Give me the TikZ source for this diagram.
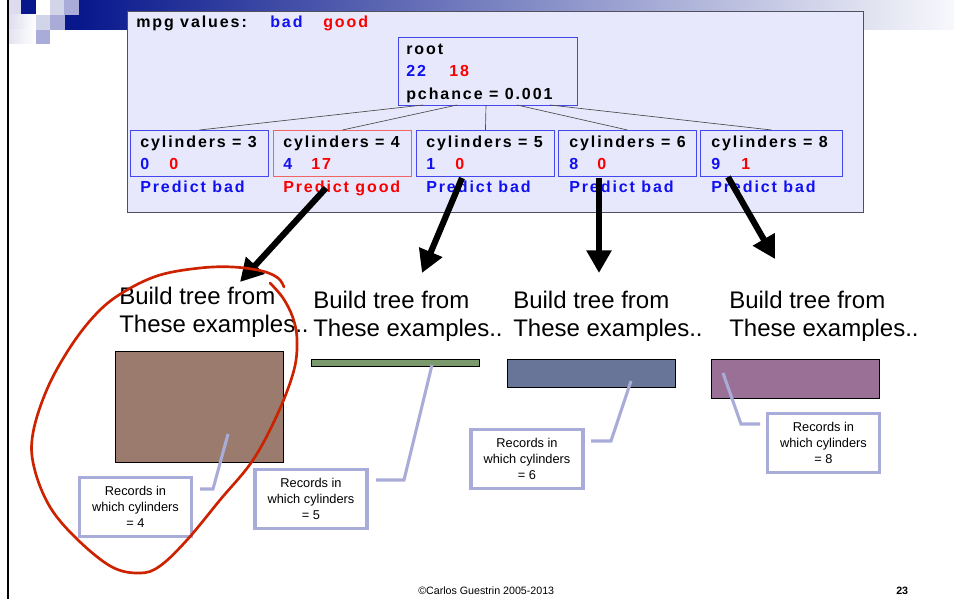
\documentclass[tikz,border=0pt]{standalone}
\usepackage{fontspec}
\setmainfont{Liberation Sans}
\newfontfamily\panelfont{Liberation Sans}[LetterSpace=12]
\usetikzlibrary{arrows.meta}
\definecolor{navy}{RGB}{8,24,140}
\definecolor{paleblue}{RGB}{220,220,238}
\definecolor{midgray}{RGB}{210,212,232}
\definecolor{lav}{RGB}{169,172,216}
\definecolor{panelbg}{RGB}{232,232,252}
\definecolor{panelbd}{RGB}{80,80,95}
\definecolor{tblue}{RGB}{16,16,240}
\definecolor{tred}{RGB}{250,0,0}
\definecolor{boxblue}{RGB}{70,70,240}
\definecolor{boxred}{RGB}{240,100,100}
\definecolor{brownr}{RGB}{155,123,110}
\definecolor{greenr}{RGB}{122,154,110}
\definecolor{bluer}{RGB}{104,116,152}
\definecolor{purpler}{RGB}{155,112,150}
\definecolor{loopred}{RGB}{204,34,0}
\tikzset{
  ptxt/.style={anchor=base west, inner sep=0pt, font=\panelfont\bfseries\fontsize{12pt}{14pt}\selectfont},
  cbox/.style={draw=boxblue, line width=0.7pt, anchor=north west, minimum width=103.5pt, minimum height=34.5pt, inner sep=0pt},
  bigtxt/.style={anchor=north west, inner sep=0pt, align=left, font=\fontsize{18pt}{21pt}\selectfont},
  callout/.style={draw=lav, line width=2.3pt, fill=white, minimum width=84pt, minimum height=44pt, inner sep=0pt, align=center, font=\fontsize{9.6pt}{12pt}\selectfont},
  leader/.style={draw=lav, line width=2.3pt},
  bigarrow/.style={line width=4.6pt, -{Triangle[length=17pt,width=18pt]}},
  datarect/.style={draw=black, line width=0.8pt, anchor=north west, inner sep=0pt},
  treeline/.style={draw=black!70, line width=0.5pt}
}
\begin{document}
\begin{tikzpicture}[x=0.75pt,y=-0.75pt]
\useasboundingbox (0,0) rectangle (954,599);
% banner
\shade[left color=navy, right color=white!97!navy] (79,0) rectangle (954,30);
\fill[paleblue] (8,0) rectangle (21,15);
\fill[navy] (21,0) rectangle (36,15);
\fill[white] (36,0) rectangle (50,15);
\fill[midgray] (50,0) rectangle (64,15);
\fill[lav] (64,0) rectangle (79,15);
\shade[left color=paleblue, right color=white] (8,15) rectangle (36,30);
\fill[midgray] (36,15) rectangle (50,30);
\fill[lav] (50,15) rectangle (65,30);
\fill[navy] (65,15) rectangle (79,30);
\shade[left color=paleblue!80, right color=white] (8,30) rectangle (36,44);
\fill[lav] (36,30) rectangle (50,44);
\draw[line width=1.5pt] (8,0) -- (8,599);
% panel
\node[draw=panelbd, fill=panelbg, line width=0.9pt, anchor=north west, minimum width=552pt, minimum height=150.75pt, inner sep=0pt] (panel) at (127,11) {};
\node[ptxt] (mpg) at (136,28) {mpg values:};
\node[ptxt, text=tblue] (mbad) at (270,28) {bad};
\node[ptxt, text=tred] (mgood) at (323,28) {good};
% root
\node[draw=boxblue, line width=0.7pt, anchor=north west, minimum width=134.25pt, minimum height=51pt, inner sep=0pt] (root) at (398,37) {};
\node[ptxt] (rt1) at (406,55) {root};
\node[ptxt, text=tblue] (rt2) at (406,77) {22};
\node[ptxt, text=tred] (rt3) at (449,77) {18};
\node[ptxt] (rt4) at (406,100) {pchance = 0.001};
% children
\node[cbox] (c3) at (130,130) {};
\node[cbox, draw=boxred] (c4) at (273,130) {};
\node[cbox] (c5) at (416,130) {};
\node[cbox] (c6) at (558,130) {};
\node[cbox, minimum width=106.5pt] (c8) at (700,130) {};
\coordinate (r1) at (423,105);
\coordinate (r2) at (457,105);
\coordinate (r3) at (486,105);
\coordinate (r4) at (517,105);
\coordinate (r5) at (550,105);
\draw[treeline] (r1) -- (c3.north);
\draw[treeline] (r2) -- (c4.north);
\draw[treeline] (r3) -- (c5.north);
\draw[treeline] (r4) -- (c6.north);
\draw[treeline] (r5) -- (c8.north);
\node[ptxt] (t3) at (140,148) {cylinders = 3};
\node[ptxt] (t4) at (283,148) {cylinders = 4};
\node[ptxt] (t5) at (426,148) {cylinders = 5};
\node[ptxt] (t6) at (569,148) {cylinders = 6};
\node[ptxt] (t8) at (711,148) {cylinders = 8};
\node[ptxt, text=tblue] (n3a) at (140,170) {0};
\node[ptxt, text=tred] (n3b) at (169,170) {0};
\node[ptxt, text=tblue] (n4a) at (283,170) {4};
\node[ptxt, text=tred] (n4b) at (311,170) {17};
\node[ptxt, text=tblue] (n5a) at (426,170) {1};
\node[ptxt, text=tred] (n5b) at (455,170) {0};
\node[ptxt, text=tblue] (n6a) at (569,170) {8};
\node[ptxt, text=tred] (n6b) at (597,170) {0};
\node[ptxt, text=tblue] (n8a) at (711,170) {9};
\node[ptxt, text=tred] (n8b) at (741,170) {1};
\node[ptxt, text=tblue] (p3) at (140,193) {Predict bad};
\node[ptxt, text=tred] (p4) at (283,193) {Predict good};
\node[ptxt, text=tblue] (p5) at (426,193) {Predict bad};
\node[ptxt, text=tblue] (p6) at (569,193) {Predict bad};
\node[ptxt, text=tblue] (p8) at (711,193) {Predict bad};
% big arrows
\coordinate (a1s) at (326,188); \coordinate (a1e) at (240,282);
\coordinate (a2s) at (462,178); \coordinate (a2e) at (422,273);
\coordinate (a3s) at (599,178); \coordinate (a3e) at (599,273);
\coordinate (a4s) at (728,177); \coordinate (a4e) at (775,259);
\draw[bigarrow] (a1s) -- (a1e);
\draw[bigarrow] (a2s) -- (a2e);
\draw[bigarrow] (a3s) -- (a3e);
\draw[bigarrow] (a4s) -- (a4e);
% build texts
\node[bigtxt] (b1) at (119,287) {Build tree from\\These examples..};
\node[bigtxt] (b2) at (313,291) {Build tree from\\These examples..};
\node[bigtxt] (b3) at (513,291) {Build tree from\\These examples..};
\node[bigtxt] (b4) at (729,291) {Build tree from\\These examples..};
% data rects
\node[datarect, fill=brownr, minimum width=126pt, minimum height=83.25pt] (d4) at (115,351) {};
\node[datarect, fill=greenr, minimum width=126pt, minimum height=5.5pt] (d5) at (311,359) {};
\node[datarect, fill=bluer, minimum width=126pt, minimum height=21pt] (d6) at (507,359) {};
\node[datarect, fill=purpler, minimum width=126pt, minimum height=29.25pt] (d8) at (711,359) {};
% callouts
\node[callout] (k4) at (135.5,507) {Records in\\which cylinders\\= 4};
\node[callout] (k5) at (311,499) {Records in\\which cylinders\\= 5};
\node[callout] (k6) at (527,459) {Records in\\which cylinders\\= 6};
\node[callout] (k8) at (823.5,443) {Records in\\which cylinders\\= 8};
\coordinate (l4a) at (228,434); \coordinate (l4b) at (213,489);
\coordinate (l5a) at (432,365); \coordinate (l5b) at (404,480);
\coordinate (l6a) at (631,381); \coordinate (l6b) at (611,441);
\coordinate (l8a) at (723,373); \coordinate (l8b) at (741,424);
\draw[leader] (l4a) -- (l4b) -- (200,489);
\draw[leader] (l5a) -- (l5b) -- (376,480);
\draw[leader] (l6a) -- (l6b) -- (591,441);
\draw[leader] (l8a) -- (l8b) -- (760,424);
% red loop
\draw[loopred, line width=2pt, line cap=round] plot[smooth, tension=0.6] coordinates {
(270,283) (283,298) (293,318) (297,340) (294,370) (278,413) (253,460) (220,500)
(187,540) (160,566) (140,573) (112,567) (78,540) (50,507) (34,467) (33,433)
(48,387) (73,343) (100,310) (127,290) (160,275) (200,268) (233,267) (262,271)
(278,278) (284,287)};
% footer
\node[anchor=base west, inner sep=0pt, font=\fontsize{8pt}{9pt}\selectfont] (foot) at (418,594) {\textcopyright Carlos Guestrin 2005-2013};
\node[anchor=base west, inner sep=0pt, font=\bfseries\fontsize{8pt}{9pt}\selectfont] (pg) at (896,594) {23};
\end{tikzpicture}
\end{document}
